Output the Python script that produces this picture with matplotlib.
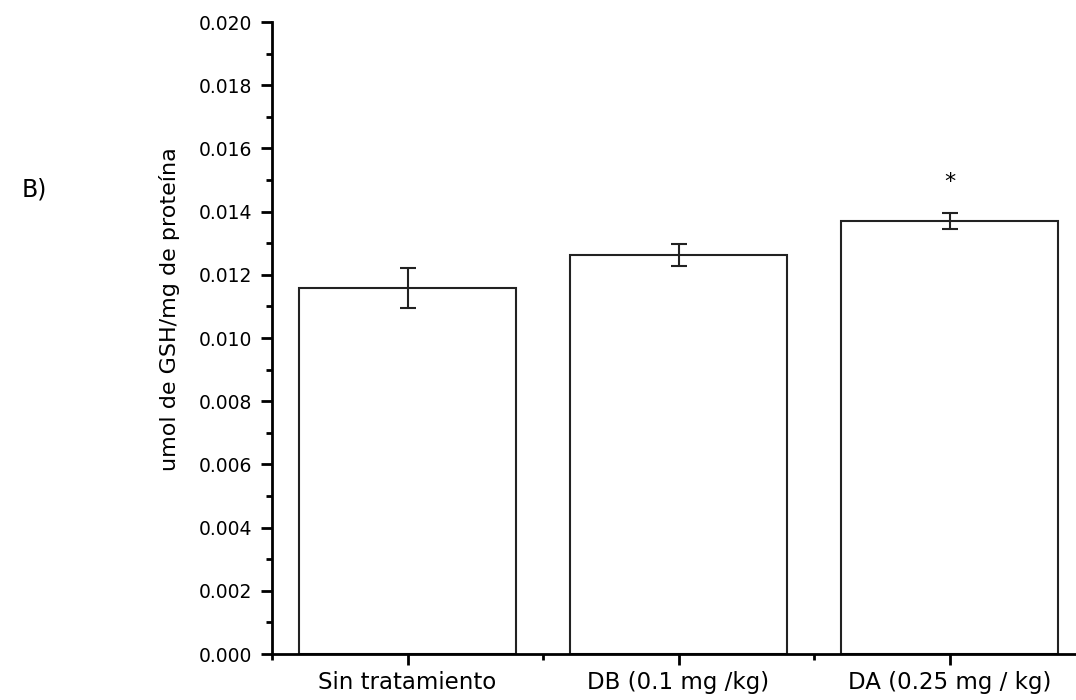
import matplotlib
matplotlib.use("Agg")
import matplotlib.pyplot as plt
from matplotlib.ticker import MultipleLocator, FormatStrFormatter, FixedLocator

plt.rcParams['font.family'] = ['DejaVu Sans']

# data
groups = ['Sin tratamiento', 'DB (0.1 mg /kg)', 'DA (0.25 mg / kg)']
gsh = [0.01158, 0.01263, 0.01370]
gsh_err = [0.00063, 0.00035, 0.00025]
signif = ['', '', '*']

fig = plt.figure(figsize=(10.76, 7.0), dpi=100)
ax = fig.add_axes([272/1076, 46/700, (1085-272)/1076, (654-22)/700])

x = [1, 2, 3]
ax.bar(x, gsh, width=0.8, color='white', edgecolor='#222222', linewidth=1.5,
       yerr=gsh_err, error_kw=dict(ecolor='#222222', elinewidth=1.5, capsize=6, capthick=1.5))

for xi, v, e, s in zip(x, gsh, gsh_err, signif):
    if s:
        ax.text(xi, v + e + 0.001, s, ha='center', va='center', fontsize=16)

ax.set_xlim(0.5, 3.5)
ax.set_ylim(0, 0.020)
ax.set_xticks(x)
ax.set_xticklabels(groups, fontsize=16.5)
ax.xaxis.set_minor_locator(FixedLocator([0.5, 1.5, 2.5, 3.5]))
ax.yaxis.set_major_locator(MultipleLocator(0.002))
ax.yaxis.set_minor_locator(MultipleLocator(0.001))
ax.yaxis.set_major_formatter(FormatStrFormatter('%.3f'))
ax.tick_params(axis='y', labelsize=13.5, pad=6)
ax.tick_params(which='major', length=8, width=2, direction='out')
ax.tick_params(which='minor', length=4, width=2, direction='out')
ax.tick_params(axis='x', pad=4)

for sp in ['top', 'right']:
    ax.spines[sp].set_visible(False)
for sp in ['left', 'bottom']:
    ax.spines[sp].set_linewidth(2)

ax.set_ylabel('umol de GSH/mg de proteína', fontsize=16, va='center')
ax.yaxis.set_label_coords(-0.1255, 0.546)

fig.text(22/1076, 1 - 190/700, 'B)', fontsize=17, va='center', ha='left')

fig.savefig('out.png', dpi=100)
